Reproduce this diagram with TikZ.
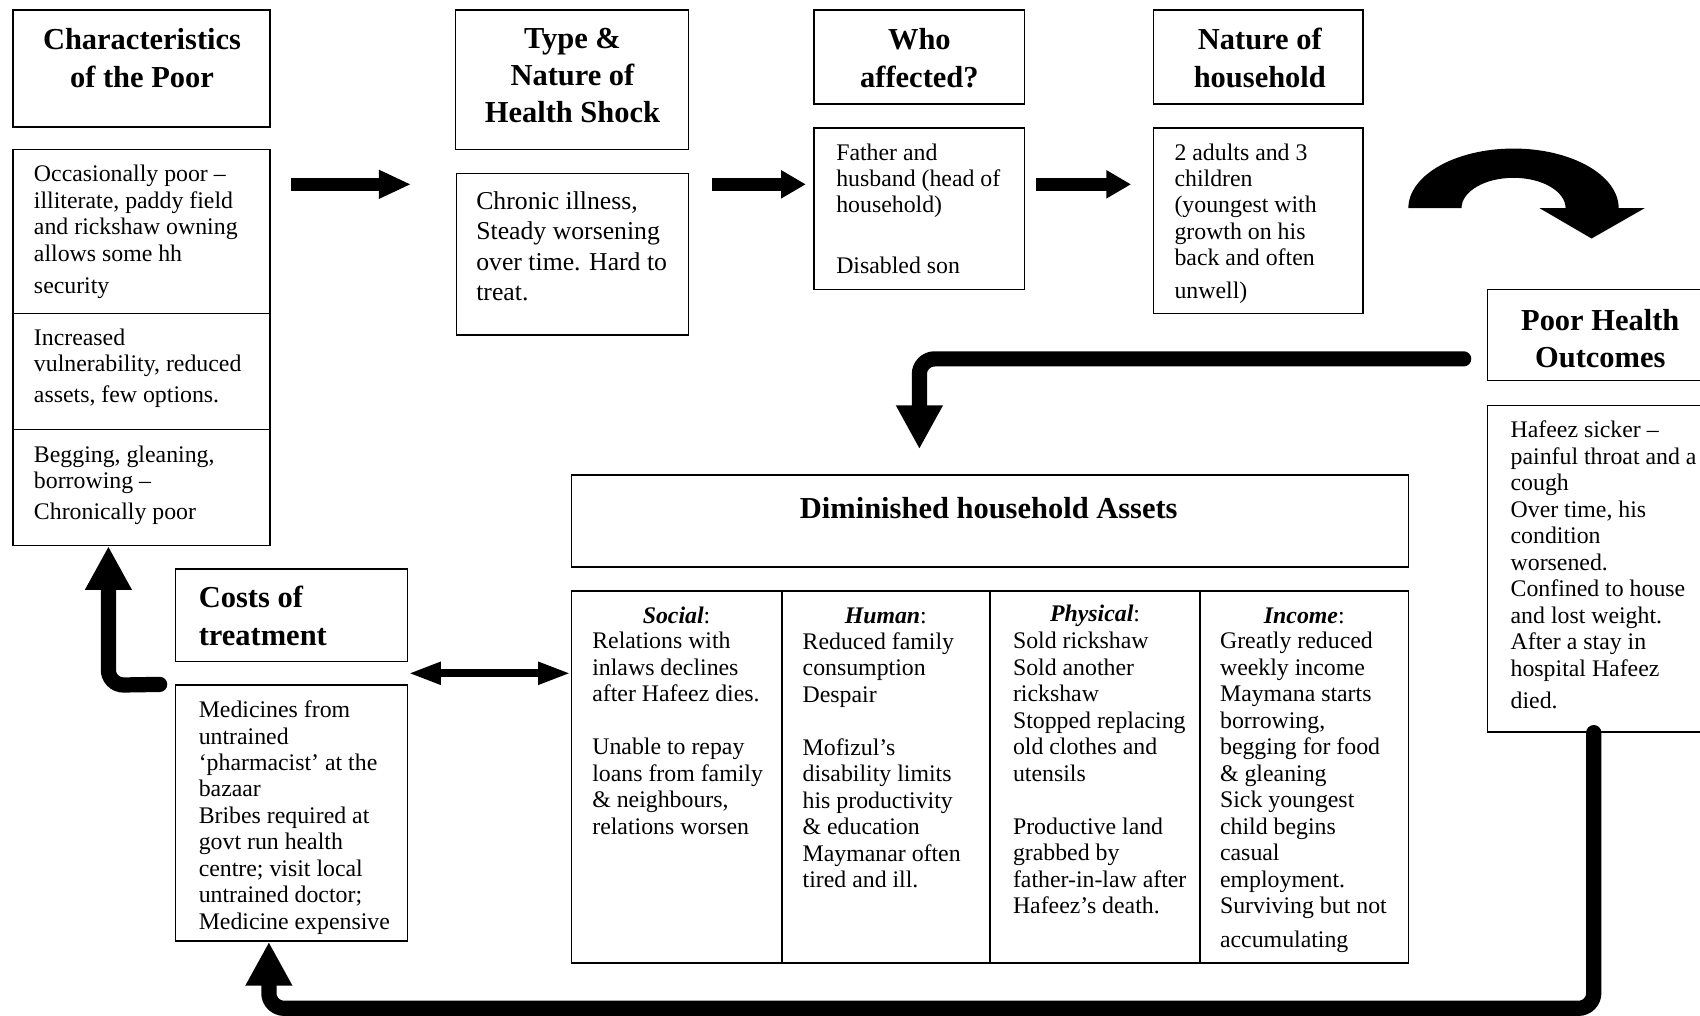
\documentclass[tikz,border=0pt]{standalone}
\usepackage{fontspec}
\setmainfont{Liberation Serif}
\usetikzlibrary{arrows.meta,calc,fit}
\begin{document}
\begin{tikzpicture}[x=0.02cm, y=-0.02cm,
  box/.style={draw, line width=0.85pt, inner sep=0pt},
  divider/.style={line width=0.85pt},
  body/.style={anchor=north west, inner sep=0pt, align=left, font=\fontsize{12.5}{13.9}\selectfont},
  head/.style={inner sep=0pt, align=center, font=\bfseries\fontsize{16}{19.9}\selectfont},
  colhead/.style={inner sep=0pt, font=\fontsize{12.5}{13.9}\selectfont},
  blockarrow/.style={line width=6.8pt, -{Triangle[width=14pt,length=13pt]}},
  thickconn/.style={line width=8pt, line cap=round, rounded corners=8pt, -{Triangle[width=23pt,length=23pt]}},
  dblarrow/.style={line width=4pt, {Triangle[width=11pt,length=17pt]}-{Triangle[width=11pt,length=17pt]}},
]
\useasboundingbox (0,0) rectangle (1568,937);

% ---- boxes ----
\node[box, fit={(12,9) (249,117)}] (charH) {};
\node[box, fit={(12,138) (249,503)}] (charB) {};
\node[box, fit={(420,9) (635,138)}] (typeH) {};
\node[box, fit={(421,160) (635,309)}] (typeB) {};
\node[box, fit={(751,9) (945,96)}] (whoH) {};
\node[box, fit={(751,118) (945,267)}] (whoB) {};
\node[box, fit={(1064,9) (1257,96)}] (natH) {};
\node[box, fit={(1064,118) (1257,289)}] (natB) {};
\node[box, fit={(1372,267) (1590,351)}] (phH) {};
\node[box, fit={(1372,374) (1590,675)}] (phB) {};
\node[box, fit={(527,438) (1299,523)}] (dimH) {};
\node[box, fit={(527,545) (1299,888)}] (colsB) {};
\node[box, fit={(162,525) (376,610)}] (costH) {};
\node[box, fit={(162,632) (376,868)}] (costB) {};

% dividers
\draw[divider] (charB.west |- 0,289) -- (charB.east |- 0,289);
\draw[divider] (charB.west |- 0,396) -- (charB.east |- 0,396);
\draw[divider] (721,0 |- colsB.north) -- (721,0 |- colsB.south);
\draw[divider] (913,0 |- colsB.north) -- (913,0 |- colsB.south);
\draw[divider] (1107,0 |- colsB.north) -- (1107,0 |- colsB.south);

% ---- headers ----
\node[head] (tCharH) at (131,53.5) {Characteristics\\of the Poor};
\node[head, font=\bfseries\fontsize{16}{19.4}\selectfont] (tTypeH) at (528,70) {Type \&\\Nature of\\Health Shock};
\node[head] (tWhoH) at (848,53.5) {Who\\affected?};
\node[head] (tNatH) at (1162,53.5) {Nature of\\household};
\node[head, font=\bfseries\fontsize{16}{19.4}\selectfont] (tPhH) at (1476,312) {Poor Health\\Outcomes};
\node[head] (tDimH) at (912,469) {Diminished household Assets};
\node[head, align=left, anchor=west] (tCostH) at (183,568.5) {Costs of\\treatment};

% ---- body texts ----
\node[body] (tc1) at (31,152) {Occasionally poor –\\illiterate, paddy field\\and rickshaw owning\\allows some hh\\[3pt]security};
\node[body] (tc2) at (31,303) {Increased\\vulnerability, reduced\\[2pt]assets, few options.};
\node[body] (tc3) at (31,411) {Begging, gleaning,\\borrowing –\\[2pt]Chronically poor};
\node[body, font=\fontsize{13.5}{16}\selectfont] (tType) at (439,176) {Chronic illness,\\Steady worsening\\over time. Hard to\\treat.};
\node[body] (tWho) at (771,132) {Father and\\husband (head of\\household)\\[18pt]Disabled son};
\node[body] (tNat) at (1083,132) {2 adults and 3\\children\\(youngest with\\growth on his\\back and often\\[3pt]unwell)};
\node[body] (tPh) at (1393,388) {Hafeez sicker –\\painful throat and a\\cough\\Over time, his\\condition\\worsened.\\Confined to house\\and lost weight.\\After a stay in\\hospital Hafeez\\[3pt]died.};

\node[colhead] (hSoc) at (624,568) {\textbf{\textit{Social}}:};
\node[colhead] (hHum) at (817,568) {\textbf{\textit{Human}}:};
\node[colhead] (hPhy) at (1010,568) {\textbf{\textit{Physical}}:};
\node[colhead] (hInc) at (1203,568) {\textbf{\textit{Income}}:};

\node[body] (tSoc) at (546,583) {Relations with\\inlaws declines\\after Hafeez dies.\\[13.9pt]Unable to repay\\loans from family\\\& neighbours,\\relations worsen};
\node[body] (tHum) at (740,583) {Reduced family\\consumption\\Despair\\[13.9pt]Mofizul’s\\disability limits\\his productivity\\\& education\\Maymanar often\\tired and ill.};
\node[body] (tPhy) at (934,583) {Sold rickshaw\\Sold another\\rickshaw\\Stopped replacing\\old clothes and\\utensils\\[13.9pt]Productive land\\grabbed by\\father-in-law after\\Hafeez’s death.};
\node[body] (tInc) at (1125,583) {Greatly reduced\\weekly income\\Maymana starts\\borrowing,\\begging for food\\\& gleaning\\Sick youngest\\child begins\\casual\\employment.\\Surviving but not\\[4pt]accumulating};
\node[body] (tCost) at (183,646) {Medicines from\\untrained\\‘pharmacist’ at the\\bazaar\\Bribes required at\\govt run health\\centre; visit local\\untrained doctor;\\Medicine expensive};

% ---- block arrows ----
\coordinate (ay) at (0,170);
\draw[blockarrow, -{Triangle[width=14pt,length=17pt]}, shorten <=0.38cm, shorten >=0.82cm] (charB.east |- ay) -- (typeB.west |- ay);
\draw[blockarrow, shorten <=0.42cm, shorten >=0.14cm] (typeB.east |- ay) -- (whoB.west |- ay);
\draw[blockarrow, shorten <=0.2cm, shorten >=0.4cm] (whoB.east |- ay) -- (natB.west |- ay);

% ---- curved arrow ----
\fill (1299,192) arc[start angle=180, end angle=0, x radius=1.94cm, y radius=1.1cm]
  -- (1517,192) -- (1468,220) -- (1420,192) -- (1444,192)
  arc[start angle=0, end angle=180, x radius=0.96cm, y radius=0.56cm] -- cycle;

% ---- thick connectors ----
\coordinate (phs) at (1350,331);
\coordinate (phc) at (848,331);
\draw[thickconn, shorten >=0.46cm] (phs) -- (phc) -- (phc |- dimH.north);

\coordinate (cus) at ($(costB.north west)+(-14,0)$);
\coordinate (cuc) at (100,632);
\draw[thickconn] (cus) -- (cuc) -- (cuc |- charB.south);

\coordinate (bc1) at (1470,930);
\coordinate (bc2) at (248,930);
\draw[thickconn] (phB.south -| bc1) -- (bc1) -- (bc2) -- (bc2 |- costB.south);

% ---- double arrow ----
\coordinate (dy) at (0,621);
\draw[dblarrow] (costB.east |- dy) -- (colsB.west |- dy);
\end{tikzpicture}
\end{document}
